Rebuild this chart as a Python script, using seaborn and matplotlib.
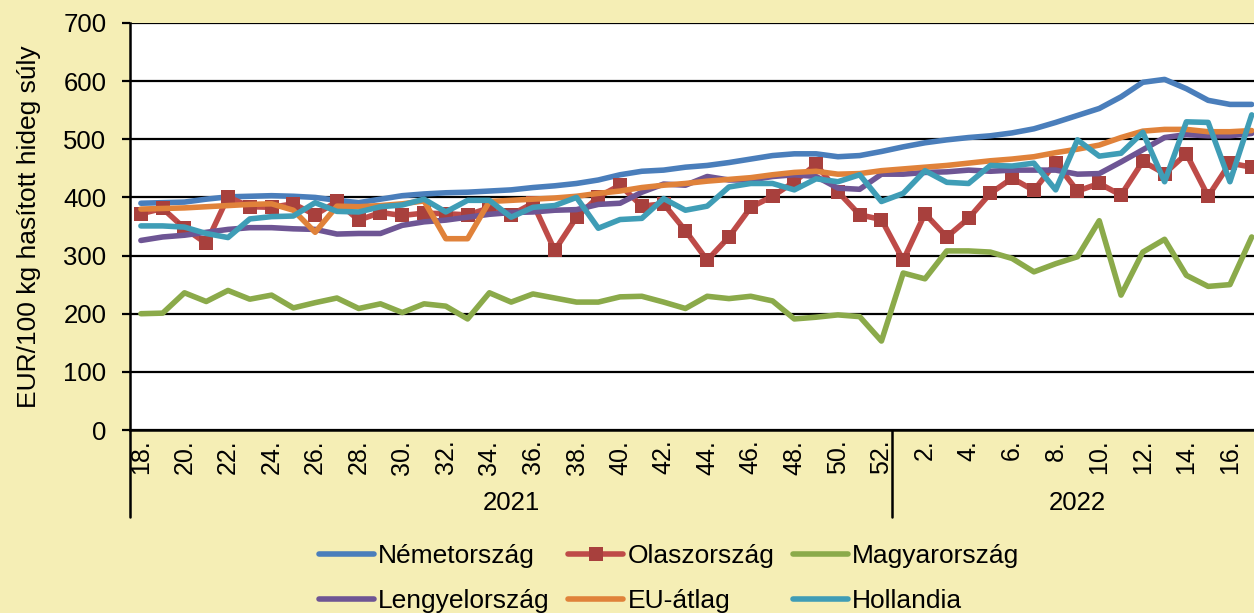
import matplotlib
matplotlib.use("Agg")
import matplotlib.pyplot as plt
import matplotlib.transforms as mtransforms
import pandas as pd
import seaborn as sns

# weeks: 2021 wk 18-52, 2022 wk 1-17
weeks_2021 = list(range(18, 53))
weeks_2022 = list(range(1, 18))

nemet = [390, 391, 392, 397, 401, 402, 403, 402, 400, 395, 391, 397, 403, 406, 408, 409, 411, 413,
         417, 420, 424, 430, 439, 445, 447, 452, 455, 460, 466, 472, 475, 475, 470, 472, 479,
         487, 494, 499, 503, 506, 511, 518, 529, 541, 553, 573, 598, 603, 587, 567, 560, 560]
olasz = [372, 381, 347, 321, 401, 384, 383, 389, 370, 393, 361, 374, 369, 373, 372, 370, 382, 370,
         390, 309, 366, 401, 421, 385, 389, 343, 292, 332, 383, 402, 427, 457, 410, 370, 362,
         292, 372, 332, 364, 407, 433, 412, 460, 411, 424, 404, 462, 441, 475, 402, 459, 452]
magyar = [200, 201, 236, 221, 240, 225, 232, 210, 219, 227, 209, 217, 202, 217, 213, 191, 236, 220,
          234, 227, 220, 220, 229, 230, 220, 209, 230, 226, 230, 222, 191, 194, 198, 195, 153,
          270, 260, 308, 308, 306, 295, 272, 286, 298, 360, 232, 306, 328, 266, 247, 250, 332]
lengyel = [326, 332, 335, 340, 345, 348, 348, 346, 345, 337, 338, 338, 352, 358, 361, 366, 371, 374,
           375, 378, 379, 388, 390, 409, 423, 421, 436, 430, 430, 436, 439, 436, 416, 414, 440,
           440, 443, 444, 447, 445, 447, 447, 447, 440, 441, 461, 482, 503, 508, 506, 506, 510]
eu = [380, 381, 382, 384, 386, 388, 389, 378, 340, 385, 384, 386, 389, 394, 329, 329, 393, 395,
      397, 399, 402, 407, 411, 417, 421, 424, 428, 431, 434, 439, 443, 445, 440, 441, 446,
      449, 452, 455, 459, 463, 466, 470, 477, 483, 490, 503, 514, 517, 517, 513, 513, 515]
holland = [351, 351, 349, 338, 331, 363, 367, 368, 391, 376, 375, 384, 387, 397, 375, 395, 395, 366,
           383, 386, 400, 347, 362, 364, 398, 378, 385, 418, 424, 424, 413, 432, 427, 439, 393,
           407, 446, 426, 424, 455, 454, 459, 413, 499, 471, 476, 512, 427, 530, 529, 427, 542]

series = {
    "Németország": nemet,
    "Olaszország": olasz,
    "Magyarország": magyar,
    "Lengyelország": lengyel,
    "EU-átlag": eu,
    "Hollandia": holland,
}
colors = {
    "Németország": "#4A7EBB",
    "Olaszország": "#BE4B48",
    "Magyarország": "#8BAA4A",
    "Lengyelország": "#6E5594",
    "EU-átlag": "#E0823A",
    "Hollandia": "#3F9DB6",
}

week_labels = [f"{w}." for w in weeks_2021 + weeks_2022]
all_weeks = weeks_2021 + weeks_2022
idx = list(range(len(week_labels)))

df = pd.DataFrame({"idx": idx, **series})

bg = "#F5EEB5"
sns.set_style("white")
plt.rcParams["font.family"] = ["Liberation Sans", "DejaVu Sans"]
plt.rcParams["text.color"] = "black"
plt.rcParams["axes.labelcolor"] = "black"
plt.rcParams["xtick.color"] = "black"
plt.rcParams["ytick.color"] = "black"

fig = plt.figure(figsize=(12.54, 6.13), dpi=100, facecolor=bg)
ax = fig.add_axes([130 / 1254, 1 - 430 / 613, 1132.6 / 1254, 407 / 613])
ax.set_facecolor("white")

for name, vals in series.items():
    if name == "Olaszország":
        sns.lineplot(data=df, x="idx", y=name, ax=ax, color=colors[name], lw=4,
                     marker="s", markersize=10, markeredgewidth=0,
                     markerfacecolor="#A8403D", label=name)
    else:
        sns.lineplot(data=df, x="idx", y=name, ax=ax, color=colors[name], lw=4, label=name)

ax.set_xlim(-0.5, len(idx) - 0.5)
ax.set_ylim(0, 700)
ax.set_yticks(range(0, 701, 100))
ax.grid(axis="y", color="black", lw=1.6)
ax.set_axisbelow(True)

tick_pos = [i for i, w in zip(idx, all_weeks) if w % 2 == 0]
ax.set_xticks(tick_pos)
ax.set_xticklabels([week_labels[i] for i in tick_pos], rotation=90, fontsize=18)
ax.tick_params(axis="x", length=0, pad=7)
ax.tick_params(axis="y", length=6, width=1.6, color="black", labelsize=18.5, pad=11, left=True)

for s in ["top", "right"]:
    ax.spines[s].set_visible(False)
for s in ["left", "bottom"]:
    ax.spines[s].set_color("black")
    ax.spines[s].set_linewidth(1.8)

ax.set_xlabel("")
ax.set_ylabel("EUR/100 kg hasított hideg súly", fontsize=19, labelpad=16)

# year separators and labels
trans = mtransforms.blended_transform_factory(ax.transData, ax.transAxes)
for xs in [-0.5, len(weeks_2021) - 0.5]:
    ax.plot([xs, xs], [0, -0.214], transform=trans, color="black", lw=1.8, clip_on=False)
ax.text((len(weeks_2021) - 1) / 2, -0.18, "2021", transform=trans, ha="center", va="center", fontsize=18.5)
ax.text(len(weeks_2021) + (len(weeks_2022)) / 2 - 0.5, -0.18, "2022", transform=trans,
        ha="center", va="center", fontsize=18.5)

handles, labels = ax.get_legend_handles_labels()
order = [0, 3, 1, 4, 2, 5]
ax.legend([handles[i] for i in order], [labels[i] for i in order], ncol=3,
          loc="upper center", bbox_to_anchor=(669 / 1254, 1 - 520 / 613),
          bbox_transform=fig.transFigure, frameon=False, fontsize=19,
          handlelength=2.1, handletextpad=0.15, columnspacing=0.7, labelspacing=0.8)

fig.savefig("out.png", dpi=100, facecolor=bg)
